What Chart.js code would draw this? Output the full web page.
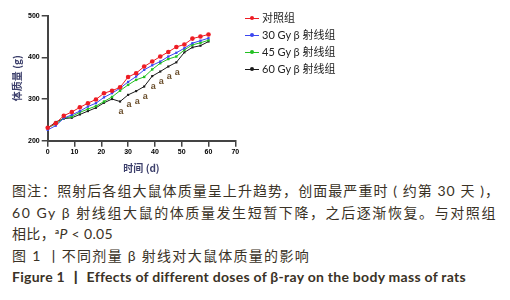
<!DOCTYPE html>
<html><head><meta charset="utf-8">
<script src="https://cdn.jsdelivr.net/npm/chart.js@4/dist/chart.umd.min.js"></script>
<style>
html,body{margin:0;padding:0;background:#fff;}
#wrap{position:relative;width:510px;height:300px;overflow:hidden;}
#cv{position:absolute;left:0;top:0;}
.leg{position:absolute;left:245px;height:14px;font:11px "Lato","Noto Sans CJK SC",sans-serif;color:#222;white-space:nowrap;}
.leg .ln{position:absolute;left:0;top:7px;width:14px;height:1px;}
.leg .dt{position:absolute;left:5px;top:5px;width:4px;height:4px;border-radius:2px;}
.leg .tx{position:absolute;left:17px;top:0;line-height:14px;}
.cap{position:absolute;left:12px;white-space:nowrap;font-family:"Lato","Noto Sans CJK SC",sans-serif;font-size:14px;color:#3a3226;line-height:18px;height:18px;}
.cap sup{font-size:8px;font-weight:bold;vertical-align:baseline;position:relative;top:-5px;line-height:0;}
</style></head>
<body><div id="wrap">
<canvas id="cv" width="250" height="175"></canvas>
<div id="legend"></div>
<div class="cap" data-w="488" style="top:182px;">图注：照射后各组大鼠体质量呈上升趋势，创面最严重时 ( 约第 30 天 )，</div>
<div class="cap" data-w="485" style="top:204px;">60 Gy β 射线组大鼠的体质量发生短暂下降，之后逐渐恢复。与对照组</div>
<div class="cap" data-w="101" style="top:225px;">相比，<sup>a</sup><i>P</i> &lt; 0.05</div>
<div class="cap" data-w="298" style="top:247px;">图 1 丨不同剂量 β 射线对大鼠体质量的影响</div>
<div class="cap" data-w="453" style="top:268px;font-weight:bold;">Figure 1 丨 Effects of different doses of β-ray on the body mass of rats</div>
</div>
<script>
const days = [0,3,6,9,12,15,18,21,24,27,30,33,36,39,42,45,48,51,54,57,60];
const control = [231,242,260,269,280,290,299,314,320,328,353,362,378,390,402,413,425,431,445,450,455];
const gy30 = [226,236,254,262,271,282,290,304,314,326,341,354,370,381,390,402,411,422,434,440,446];
const gy45 = [231,240,254,258,268,276,283,294,305,320,334,346,353,371,386,396,402,418,430,435,441];
const gy60 = [230,245,253,255,263,271,279,291,300,294,310,319,330,355,366,378,388,412,424,428,438];
const sigDays = [27,30,33,36,39,42,45,48];
const seriesNames = ['对照组','30 Gy β 射线组','45 Gy β 射线组','60 Gy β 射线组'];
const xTitle = '时间 (d)';
const yTitle = '体质量 (g)';

const colors = ['#ee1c24','#3c46f0','#22c022','#1a1a1a'];
const series = [control, gy30, gy45, gy60];
const pstyle = ['circle','rect','rect','rect'];
const prad = [2.3,1.6,1.7,1.5];

const datasets = series.map((s,i)=>({
  label: seriesNames[i],
  data: days.map((d,j)=>({x:d,y:s[j]})),
  borderColor: colors[i], backgroundColor: colors[i],
  borderWidth: 1, pointRadius: prad[i], pointStyle: pstyle[i],
  pointBorderWidth: 0, tension: 0, clip: false
}));

const sigPlugin = {
  id:'sig',
  afterDatasetsDraw(chart){
    const ctx = chart.ctx, xs = chart.scales.x, ys = chart.scales.y;
    ctx.save();
    ctx.font = 'bold 9px "Liberation Sans", sans-serif';
    ctx.fillStyle = '#6a4e2c';
    ctx.textAlign = 'center'; ctx.textBaseline = 'middle';
    sigDays.forEach(d=>{
      const j = days.indexOf(d);
      ctx.fillText('a', xs.getPixelForValue(d)+1, ys.getPixelForValue(gy60[j])+10);
    });
    ctx.restore();
  }
};

const tickFont = {size:7, weight:'bold', family:'"Liberation Sans", sans-serif'};
const titleFont = {size:10, weight:'bold', family:'"Noto Sans CJK SC","Lato",sans-serif'};

new Chart(document.getElementById('cv'), {
  type:'line',
  data:{datasets},
  plugins:[sigPlugin],
  options:{
    responsive:false, animation:false, devicePixelRatio:1,
    layout:{padding:{left:0,top:15.7,right:14.7,bottom:0}},
    plugins:{legend:{display:false}, tooltip:{enabled:false}},
    scales:{
      x:{type:'linear', min:0, max:70,
        ticks:{stepSize:10, font:tickFont, color:'#000', padding:1, maxRotation:0},
        grid:{drawOnChartArea:false, tickLength:6, color:'#444', lineWidth:1.5},
        border:{color:'#444', width:2},
        title:{display:true, text:xTitle, font:titleFont, color:'#3c3f6b', padding:{top:0,bottom:1}},
        afterFit:(s)=>{s.height=34.3;}
      },
      y:{type:'linear', min:200, max:500,
        ticks:{stepSize:100, font:tickFont, color:'#000', padding:2},
        grid:{drawOnChartArea:false, tickLength:6, color:'#444', lineWidth:1.5},
        border:{color:'#444', width:2},
        title:{display:true, text:yTitle, font:titleFont, color:'#3c3f6b', padding:{top:11,bottom:0}},
        afterFit:(s)=>{s.width=47.7;}
      }
    }
  }
});

const legTops = [11,27.5,45,62];
const leg = document.getElementById('legend');
seriesNames.forEach((n,i)=>{
  const d = document.createElement('div');
  d.className='leg'; d.style.top = legTops[i]+'px';
  d.innerHTML = '<div class="ln" style="background:'+colors[i]+'"></div><div class="dt" style="background:'+colors[i]+'"></div><div class="tx"></div>';
  d.querySelector('.tx').textContent = n;
  leg.appendChild(d);
});

// fit caption lines to the reference widths
document.querySelectorAll('.cap').forEach(el=>{
  const target = parseFloat(el.dataset.w);
  const n = el.textContent.length;
  const w = el.getBoundingClientRect().width;
  el.style.letterSpacing = ((target - w) / n) + 'px';
});
</script>
</body></html>
